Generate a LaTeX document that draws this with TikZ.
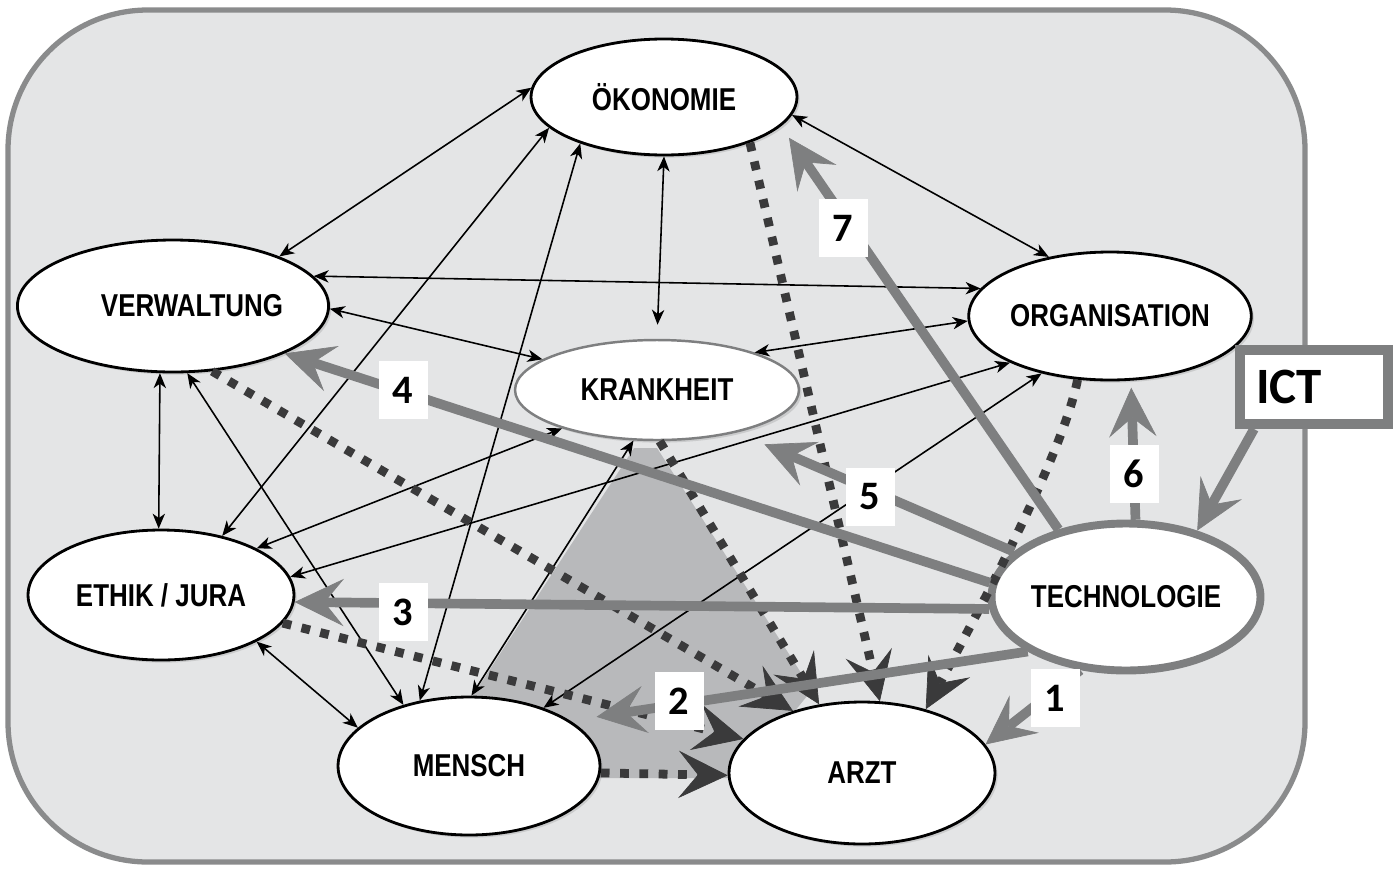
\documentclass[tikz,border=0pt]{standalone}
\usepackage{fontspec}
\setmainfont{Liberation Sans}[FakeStretch=0.82]
\newfontfamily\numfont{Carlito}
\usepackage{xcolor}
\usepackage{tikz}
\usetikzlibrary{arrows.meta,shapes.geometric,shadows}
\definecolor{panel}{HTML}{E4E5E6}
\definecolor{panelrim}{HTML}{8A8B8C}
\definecolor{wedge}{HTML}{B8B9BB}
\definecolor{techgray}{HTML}{7E7F80}
\definecolor{dotgray}{HTML}{3A3A3B}

\begin{document}
\begin{tikzpicture}[x=0.02cm,y=-0.02cm,
    >={Stealth[length=8.5pt,width=7pt,inset=2.5pt]},
    ell/.style={ellipse,draw=black,line width=1.6pt,fill=white,inner sep=0pt,
      drop shadow={shadow xshift=1.5pt,shadow yshift=-1.5pt,opacity=0.25},
      font=\bfseries\fontsize{18}{20}\selectfont},
    num/.style={fill=white,inner sep=0pt,minimum width=0.98cm,minimum height=1.16cm,
      font=\numfont\bfseries\fontsize{23}{25}\selectfont},
    link/.style={<->,line width=0.9pt},
    dotarr/.style={draw=dotgray,line width=5pt,dash pattern=on 5pt off 6pt,
      -{Stealth[length=28pt,width=27pt,inset=11pt,line width=0.4pt]}},
    techarr/.style={draw=techgray,line width=5.5pt,
      -{Stealth[length=28pt,width=27pt,inset=11pt,line width=0.4pt]}}]
  \useasboundingbox (0,0) rectangle (1399,869);
  \draw[panelrim,fill=panel,line width=3pt,rounded corners=2.8cm] (8,10) rectangle (1305,862);
  \fill[wedge] (634,448) -- (470,700) -- (560,778) -- (740,778) -- (812,690) -- (657,448) -- cycle;

  \node[ell,minimum width=5.32cm,minimum height=2.32cm] (oek) at (664,97) {ÖKONOMIE};
  \node[ell,minimum width=5.36cm,minimum height=2.64cm] (verw) at (173,306) {\hspace*{0.76cm}VERWALTUNG};
  \node[ell,minimum width=5.36cm,minimum height=2.56cm] (org) at (1110,316) {ORGANISATION};
  \node[ell,draw=techgray,line width=1.4pt,minimum width=5.68cm,minimum height=2cm] (krank) at (657,390) {KRANKHEIT};
  \node[ell,minimum width=5.32cm,minimum height=2.6cm] (ethik) at (161,595) {ETHIK / JURA};
  \node[ell,draw=techgray,line width=4.5pt,minimum width=5.3cm,minimum height=2.94cm] (tech) at (1126,597) {TECHNOLOGIE};
  \node[ell,minimum width=5.24cm,minimum height=2.76cm] (mensch) at (469,766) {MENSCH};
  \node[ell,minimum width=5.32cm,minimum height=2.84cm] (arzt) at (862,773) {ARZT};
  \node[draw=techgray,line width=5.7pt,fill=white,minimum width=2.96cm,minimum height=1.48cm,
    font=\numfont\bfseries\fontsize{29}{31}\selectfont] (ict) at (1314,387) {ICT\hspace*{1cm}};

  \draw[link] (oek.176) -- (verw.25);
  \draw[link] (oek.-8) -- (org.136);
  \draw[link,shorten >=8pt] (oek.270) -- (krank.90);
  \draw[link] (oek.195) -- (ethik.44);
  \draw[link] (oek.209) -- (mensch.127);
  \draw[link] (verw.12) -- (org.168);
  \draw[link] (verw.-1) -- (krank.165);
  \draw[link] (verw.259) -- (ethik.92);
  \draw[link] (verw.-78) -- (mensch.137);
  \draw[link] (org.182) -- (krank.21);
  \draw[link] (org.205) -- (ethik.8);
  \draw[link] (org.220) -- (mensch.38);
  \draw[link] (krank.202) -- (ethik.26);
  \draw[link] (krank.245) -- (mensch.88);
  \draw[link] (ethik.-26) -- (mensch.161);

  \draw[dotarr] (verw.-59) -- (arzt.138);
  \draw[dotarr] (ethik.-13) -- (arzt.164);
  \draw[dotarr] (mensch.-3) -- (arzt.181);
  \draw[dotarr] (krank.-87) -- (arzt.122);
  \draw[dotarr] (oek.-28) -- (arzt.76);
  \draw[dotarr] (org.243) .. controls (1064,450) and (985,600) .. (arzt.45);

  \draw[techarr] (tech.-122) -- (arzt.13);
  \draw[techarr,shorten >=15pt] (tech.209) -- (mensch.24);
  \draw[techarr] (tech.185) -- (ethik.-3);
  \draw[techarr] (tech.174) -- (verw.-23);
  \draw[techarr,shorten >=17pt] (tech.158) -- (krank.-28);
  \draw[techarr,shorten >=4pt] (tech.83) -- (org.-72);
  \draw[techarr,shorten >=8pt] (tech.135) -- (oek.-14);
  \draw[techarr] (ict.215) -- (tech.43);

  \foreach \n/\x/\y in {1/1055/698,2/679/701,3/403/612,4/403/390,5/870/497,6/1134/474,7/843/228}
    \node[num] (n\n) at (\x,\y) {\n};
\end{tikzpicture}
\end{document}
